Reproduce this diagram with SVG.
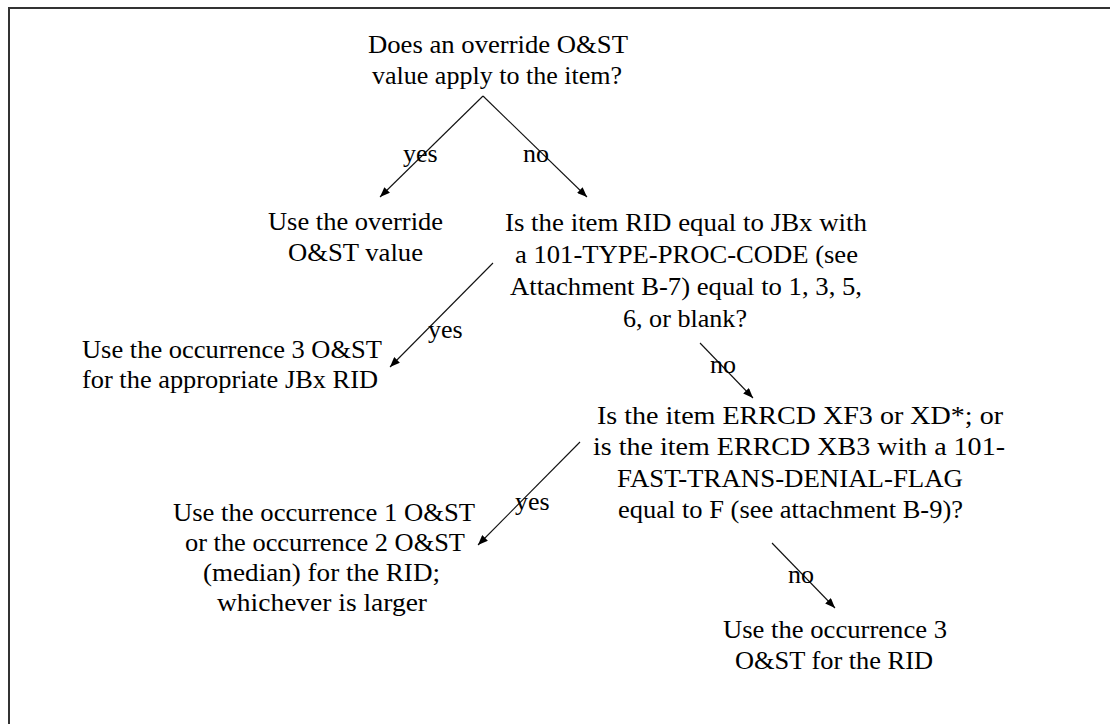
<svg xmlns="http://www.w3.org/2000/svg" width="1110" height="724" viewBox="0 0 1110 724">
  <style>
    text { font-family: "Liberation Serif", "Times New Roman", serif; font-size: 26px; fill: #000; }
    .edge { stroke: #111; stroke-width: 1.1; fill: none; marker-end: url(#ah); }
    .frame { stroke: #333; stroke-width: 2; fill: none; }
  </style>
  <defs>
    <marker id="ah" viewBox="0 0 10 8" refX="10" refY="4" markerWidth="10" markerHeight="8" orient="auto" markerUnits="userSpaceOnUse">
      <path d="M0,0 L10,4 L0,8 z" fill="#000"/>
    </marker>
  </defs>

  <rect width="1110" height="724" fill="#fff"/>

  <!-- page frame: top and left rules -->
  <g id="frame">
    <line class="frame" x1="8" y1="8" x2="1110" y2="8"/>
    <line class="frame" x1="9" y1="7" x2="9" y2="724"/>
  </g>

  <!-- decision: override -->
  <g id="q-override">
    <text x="368" y="53" textLength="260" lengthAdjust="spacingAndGlyphs">Does an override O&amp;ST</text>
    <text x="372" y="84" textLength="250" lengthAdjust="spacingAndGlyphs">value apply to the item?</text>
  </g>

  <!-- result: override value -->
  <g id="r-override">
    <text x="268" y="230" textLength="175" lengthAdjust="spacingAndGlyphs">Use the override</text>
    <text x="288" y="261" textLength="135" lengthAdjust="spacingAndGlyphs">O&amp;ST value</text>
  </g>

  <!-- decision: JBx RID -->
  <g id="q-jbx">
    <text x="505" y="231" textLength="362" lengthAdjust="spacingAndGlyphs">Is the item RID  equal to JBx with</text>
    <text x="515" y="263" textLength="343" lengthAdjust="spacingAndGlyphs">a 101-TYPE-PROC-CODE (see</text>
    <text x="510" y="295" textLength="352" lengthAdjust="spacingAndGlyphs">Attachment B-7) equal to 1, 3, 5,</text>
    <text x="623" y="327" textLength="124" lengthAdjust="spacingAndGlyphs">6, or blank?</text>
  </g>

  <!-- result: occurrence 3 for JBx -->
  <g id="r-jbx">
    <text x="82" y="358" textLength="300" lengthAdjust="spacingAndGlyphs">Use the occurrence 3 O&amp;ST</text>
    <text x="82" y="388" textLength="296" lengthAdjust="spacingAndGlyphs">for the appropriate JBx RID</text>
  </g>

  <!-- decision: ERRCD -->
  <g id="q-errcd">
    <text x="597" y="424" textLength="406" lengthAdjust="spacingAndGlyphs">Is the item ERRCD XF3 or XD*; or</text>
    <text x="593" y="455" textLength="412" lengthAdjust="spacingAndGlyphs">is the item ERRCD XB3 with a 101-</text>
    <text x="617" y="487" textLength="346" lengthAdjust="spacingAndGlyphs">FAST-TRANS-DENIAL-FLAG</text>
    <text x="618" y="518" textLength="345" lengthAdjust="spacingAndGlyphs">equal to F (see attachment B-9)?</text>
  </g>

  <!-- result: larger of occurrence 1 / 2 -->
  <g id="r-larger">
    <text x="173" y="521" textLength="302" lengthAdjust="spacingAndGlyphs">Use the occurrence 1 O&amp;ST</text>
    <text x="185" y="551" textLength="280" lengthAdjust="spacingAndGlyphs">or the occurrence 2 O&amp;ST</text>
    <text x="203" y="581" textLength="237" lengthAdjust="spacingAndGlyphs">(median) for the RID;</text>
    <text x="217" y="611" textLength="210" lengthAdjust="spacingAndGlyphs">whichever is larger</text>
  </g>

  <!-- result: occurrence 3 -->
  <g id="r-occ3">
    <text x="723" y="638" textLength="224" lengthAdjust="spacingAndGlyphs">Use the occurrence 3</text>
    <text x="735" y="669" textLength="198" lengthAdjust="spacingAndGlyphs">O&amp;ST for the RID</text>
  </g>

  <!-- connectors with yes/no labels -->
  <g id="connectors">
    <line class="edge" x1="483" y1="96" x2="380" y2="197"/>
    <line class="edge" x1="483" y1="96" x2="587" y2="197"/>
    <line class="edge" x1="493" y1="263" x2="390" y2="367"/>
    <line class="edge" x1="700" y1="343" x2="753" y2="398"/>
    <line class="edge" x1="580" y1="442" x2="478" y2="545"/>
    <line class="edge" x1="772" y1="543" x2="835" y2="608"/>
    <text x="403" y="162">yes</text>
    <text x="523" y="162">no</text>
    <text x="428" y="338">yes</text>
    <text x="710" y="373">no</text>
    <text x="515" y="510">yes</text>
    <text x="788" y="583">no</text>
  </g>
</svg>
